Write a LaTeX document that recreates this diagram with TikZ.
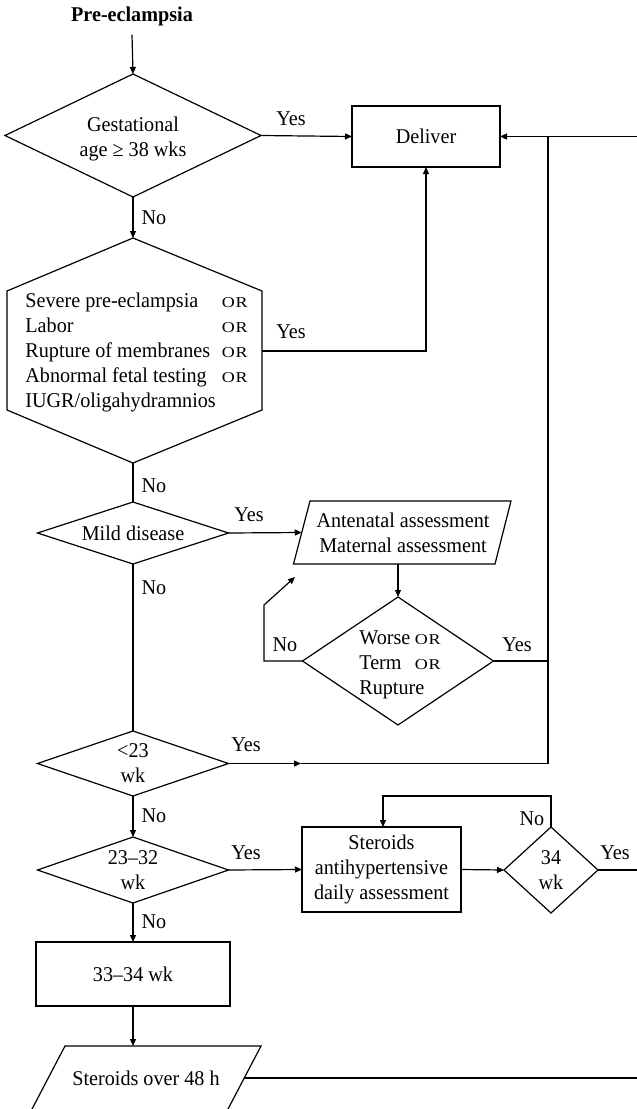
\documentclass[tikz,border=0pt]{standalone}
\usepackage{fontspec}
\setmainfont{Liberation Serif}[FakeStretch=0.96]
\newfontfamily\orfont{Liberation Serif}[FakeStretch=1.2]
\usetikzlibrary{shapes.geometric,arrows.meta}
\newcommand{\orw}{{\orfont\fontsize{15}{15}\selectfont O\kern0.8pt R}}
\begin{document}
\begin{tikzpicture}[x=1pt,y=-1pt,
  every node/.style={font=\fontsize{21}{25}\selectfont, inner sep=0pt, outer sep=0pt},
  ln/.style={line width=1.2pt},
  arr/.style={ln,-{Triangle[length=7pt,width=6pt]}},
  dia/.style={draw, ln, diamond, align=center},
  boxx/.style={draw, ln, rectangle, align=center}]
\useasboundingbox (0,0) rectangle (637,1109);
\clip (0,0) rectangle (637,1109);

% nodes
\node[font=\bfseries\fontsize{21}{25}\selectfont] (pre) at (132,16) {Pre-eclampsia};
\node[dia, minimum width=256pt, minimum height=123pt, shape aspect=2.08] (ga) at (133,135.5) {};
\node[align=center] (gat) at (133,138.5) {Gestational\\age ≥ 38 wks};
\node[boxx, minimum width=148pt, minimum height=61pt] (deliver) at (426,136.5) {Deliver};

% hexagon
\coordinate (hT) at (133,238);
\coordinate (hUR) at (262,291);
\coordinate (hLR) at (262,410);
\coordinate (hB) at (133,463);
\coordinate (hLL) at (7,410);
\coordinate (hUL) at (7,291);
\coordinate (hR) at (262,351);
\draw[ln] (hT) -- (hUR) -- (hLR) -- (hB) -- (hLL) -- (hUL) -- cycle;
\node (hext) at (136.5,352) {\begin{tabular}{@{}l@{\hspace{6pt}}l@{}}
Severe pre-eclampsia & \orw\\
Labor & \orw\\
Rupture of membranes & \orw\\
Abnormal fetal testing & \orw\\
IUGR/oligahydramnios & \end{tabular}};

\node[dia, minimum width=191pt, minimum height=62pt, shape aspect=3.08] (mild) at (133,533) {Mild disease};

% parallelogram: antenatal / maternal assessment
\coordinate (aTL) at (310,501);
\coordinate (aTR) at (511,501);
\coordinate (aBR) at (495,564);
\coordinate (aBL) at (293.5,564);
\coordinate (aW) at (301.75,532.5);
\coordinate (aS) at (398,564);
\draw[ln] (aTL) -- (aTR) -- (aBR) -- (aBL) -- cycle;
\node[align=center] (ante) at (403,532.5) {Antenatal assessment\\Maternal assessment};

\node[dia, minimum width=191pt, minimum height=128pt, shape aspect=1.49] (worse) at (398,661) {};
\node[align=left] (worset) at (400,665)
  {\makebox[55.5pt][l]{Worse}\orw\\\makebox[55.5pt][l]{Term}\orw\\Rupture};

\node[dia, minimum width=191pt, minimum height=65pt, shape aspect=2.94] (lt23) at (133,763.5) {<23\\wk};
\node[dia, minimum width=191pt, minimum height=66pt, shape aspect=2.9] (d2332) at (133,870) {23–32\\wk};
\node[boxx, minimum width=159pt, minimum height=85pt] (ster) at (381.5,869.5) {Steroids\\antihypertensive\\daily assessment};
\node[dia, minimum width=94pt, minimum height=86pt, shape aspect=1.09] (w34) at (551,870) {34\\wk};
\node[boxx, minimum width=194pt, minimum height=64pt] (b3334) at (133,974) {33–34 wk};

% parallelogram: steroids over 48 h
\coordinate (sTL) at (65,1046);
\coordinate (sTR) at (261,1046);
\coordinate (sBR) at (227.5,1110);
\coordinate (sBL) at (31.5,1110);
\coordinate (sN) at (133,1046);
\coordinate (sE) at (244.25,1078);
\draw[ln] (sTL) -- (sTR) -- (sBR) -- (sBL) -- cycle;
\node (st48) at (146,1078) {Steroids over 48 h};

% free ends and bends
\coordinate (eTop) at (637,136.5);
\coordinate (jTop) at (548,136.5);
\coordinate (jWorse) at (548,661);
\coordinate (j23) at (548,763.5);
\coordinate (a23) at (301,763.5);
\coordinate (lp1) at (264,661);
\coordinate (lp2) at (264,605);
\coordinate (lp3) at (295,577);
\coordinate (n34a) at (551,796);
\coordinate (n34b) at (383,796);
\coordinate (e34) at (637,870);
\coordinate (e48) at (637,1078);

% connectors
\draw[arr] ([yshift=-9pt]pre.south) -- (ga.north);
\draw[arr] (ga.south) -- (hT);
\draw[ln] (hB) -- (mild.north);
\draw[ln] (mild.south) -- (lt23.north);
\draw[arr] (lt23.south) -- (d2332.north);
\draw[arr] (d2332.south) -- (b3334.north);
\draw[arr] (b3334.south) -- (sN);
\draw[arr] (ga.east) -- (deliver.west);
\draw[arr] (eTop) -- (deliver.east);
\draw[arr] (hR) -| (deliver.south);
\draw[arr] (mild.east) -- (aW);
\draw[arr] (aS) -- (worse.north);
\draw[arr] (worse.west) -- (lp1) -- (lp2) -- (lp3);
\draw[ln] (worse.east) -- (jWorse);
\draw[arr] (lt23.east) -- (a23);
\draw[ln] (a23) -- (j23) -- (jTop);
\draw[arr] (d2332.east) -- (ster.west);
\draw[arr] (ster.east) -- (w34.west);
\draw[arr] (w34.north) -- (n34a) -- (n34b) -- (n34b |- ster.north);
\draw[ln] (w34.east) -- (e34);
\draw[ln] (sE) -- (e48);

% labels
\node (y1) at (291,119) {Yes};
\node (y2) at (291,332) {Yes};
\node (y3) at (249,515) {Yes};
\node (y4) at (517,645) {Yes};
\node (y5) at (246,745) {Yes};
\node (y6) at (246,853) {Yes};
\node (y7) at (615,853) {Yes};
\node (n1) at (154,218) {No};
\node (n2) at (154,486) {No};
\node (n3) at (154,588) {No};
\node (n4) at (285,645) {No};
\node (n5) at (154,816) {No};
\node (n6) at (532,819) {No};
\node (n7) at (154,922) {No};
\end{tikzpicture}
\end{document}
